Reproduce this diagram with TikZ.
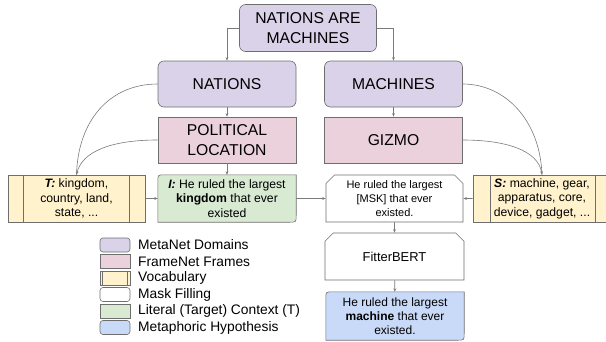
\documentclass[tikz,border=0pt]{standalone}
\usepackage{fontspec}
\setmainfont{Liberation Sans}
\usetikzlibrary{arrows.meta,shapes.misc,backgrounds}
\definecolor{cpurple}{HTML}{D9D2E9}
\definecolor{cpink}{HTML}{EAD1DC}
\definecolor{cyellow}{HTML}{FFF2CC}
\definecolor{cgreen}{HTML}{D9EAD3}
\definecolor{cblue}{HTML}{C9DAF8}
\definecolor{cborder}{HTML}{6E6E6E}
\definecolor{cline}{HTML}{7A7A7A}
\begin{document}
\begin{tikzpicture}[x=1pt,y=-1pt,
  basebox/.style={draw=cborder, line width=0.6pt, align=center, inner sep=0pt},
  bigtxt/.style={font=\fontsize{15.7}{20}\selectfont},
  smalltxt/.style={font=\fontsize{11}{14}\selectfont},
  midtxt/.style={font=\fontsize{12.2}{14.5}\selectfont},
  legtxt/.style={font=\fontsize{13.8}{16}\selectfont, anchor=west, inner sep=0pt},
  domainbox/.style={basebox, bigtxt, fill=cpurple, rounded corners=6pt, minimum width=138pt, minimum height=46pt},
  framebox/.style={basebox, bigtxt, fill=cpink, minimum width=138pt, minimum height=46pt},
  vocabbox/.style={basebox, midtxt, fill=cyellow, minimum width=138pt, minimum height=47pt},
  maskbox/.style={basebox, smalltxt, fill=white, chamfered rectangle, chamfered rectangle corners={north west,north east}, chamfered rectangle xsep=5pt, minimum width=138pt, minimum height=47pt},
  plainbox/.style={align=center, inner sep=0pt, midtxt, minimum width=138pt, minimum height=47pt},
  conn/.style={draw=cline, line width=0.6pt},
  arr/.style={conn, -{Stealth[length=3.5pt,width=2.8pt]}},
  swatch/.style={draw=cborder, line width=0.6pt, minimum width=30pt, minimum height=14pt, inner sep=0pt}
]
\useasboundingbox (0,0) rectangle (606,341);

% top level
\node[domainbox, minimum width=137pt, minimum height=47pt] (top) at (308,28) {NATIONS ARE\\MACHINES};
\node[domainbox] (nations) at (227,84) {NATIONS};
\node[domainbox] (machines) at (393.5,84) {MACHINES};
\node[framebox] (pol) at (227,140) {POLITICAL\\LOCATION};
\node[framebox] (gizmo) at (393.5,140) {GIZMO};

% middle row
\node[vocabbox, minimum width=137pt] (tbox) at (76.5,198.5) {\textbf{\textit{T:}} kingdom,\\country, land,\\state, ...};
\node[plainbox] (ibox) at (227,198.5) {\textbf{\textit{I:}} He ruled the largest\\\textbf{kingdom} that ever\\existed};
\node[maskbox, minimum width=137pt] (mask) at (394.5,198.5) {He ruled the largest\\{[MSK]} that ever\\existed.};
\node[vocabbox] (sbox) at (542,198.5) {\textbf{\textit{S:}} machine, gear,\\apparatus, core,\\device, gadget, ...};
\node[maskbox, minimum width=139pt] (fitter) at (394.5,256.5) {\fontsize{12.9}{14}\selectfont FitterBERT};
\node[plainbox, minimum width=138pt, minimum height=48pt, font=\fontsize{12}{14}\selectfont] (hyp) at (395,316) {He ruled the largest\\\textbf{machine} that ever\\existed.};

% backgrounds for two-rounded-corner boxes
\begin{scope}[on background layer]
  \foreach \n/\c in {ibox/cgreen, hyp/cblue}{
    \draw[draw=cborder, line width=0.6pt, fill=\c]
      (\n.south west) -- ([yshift=-7pt]\n.north west)
      .. controls (\n.north west) .. ([xshift=7pt]\n.north west)
      -- (\n.north east) -- ([yshift=7pt]\n.south east)
      .. controls (\n.south east) .. ([xshift=-7pt]\n.south east) -- cycle;
  }
\end{scope}

% vocabulary inner lines
\draw[draw=cborder, line width=0.6pt] ([xshift=16pt]tbox.north west) -- ([xshift=16pt]tbox.south west);
\draw[draw=cborder, line width=0.6pt] ([xshift=-16pt]tbox.north east) -- ([xshift=-16pt]tbox.south east);
\draw[draw=cborder, line width=0.6pt] ([xshift=18pt]sbox.north west) -- ([xshift=18pt]sbox.south west);
\draw[draw=cborder, line width=0.6pt] ([xshift=-16pt]sbox.north east) -- ([xshift=-16pt]sbox.south east);

% connectors
\draw[arr] (top.west) -| (nations.north);
\draw[arr] (top.east) -| (machines.north);
\draw[arr] (nations) -- (pol);
\draw[arr] (machines) -- (gizmo);
\draw[arr] (pol) -- (ibox);
\draw[arr] (tbox) -- (ibox);
\draw[arr] (ibox) -- (mask);
\draw[arr] (sbox) -- (mask);
\draw[arr] (mask) -- (fitter);
\draw[arr] (fitter) -- (hyp);

\draw[conn] (nations.west) .. controls (110,84) and (78,120) .. (tbox.north);
\draw[arr] (pol.west) .. controls (110,140) and (82,152) .. (tbox.north);
\draw[conn] (machines.east) .. controls (505,84) and (540,120) .. (sbox.north);
\draw[arr] (gizmo.east) .. controls (505,140) and (538,150) .. (sbox.north);

% legend
\node[swatch, fill=cpurple, rounded corners=3pt] (l1) at (115,245) {};
\node[swatch, fill=cpink] (l2) at (115,261.5) {};
\node[swatch, fill=cyellow] (l3) at (115,278) {};
\draw[draw=cborder, line width=0.6pt] ([xshift=3pt]l3.north west) -- ([xshift=3pt]l3.south west);
\draw[draw=cborder, line width=0.6pt] ([xshift=-3pt]l3.north east) -- ([xshift=-3pt]l3.south east);
\node[swatch, fill=white, rounded corners=3pt] (l4) at (115,294.5) {};
\node[swatch, fill=cgreen] (l5) at (115,311) {};
\node[swatch, fill=cblue, rounded corners=3pt] (l6) at (115,327.5) {};
\node[legtxt] (t1) at (138,245) {MetaNet Domains};
\node[legtxt] (t2) at (138,261.5) {FrameNet Frames};
\node[legtxt] (t3) at (138,278) {Vocabulary};
\node[legtxt] (t4) at (138,294.5) {Mask Filling};
\node[legtxt] (t5) at (138,311) {Literal (Target) Context (T)};
\node[legtxt] (t6) at (138,327.5) {Metaphoric Hypothesis};
\end{tikzpicture}
\end{document}
